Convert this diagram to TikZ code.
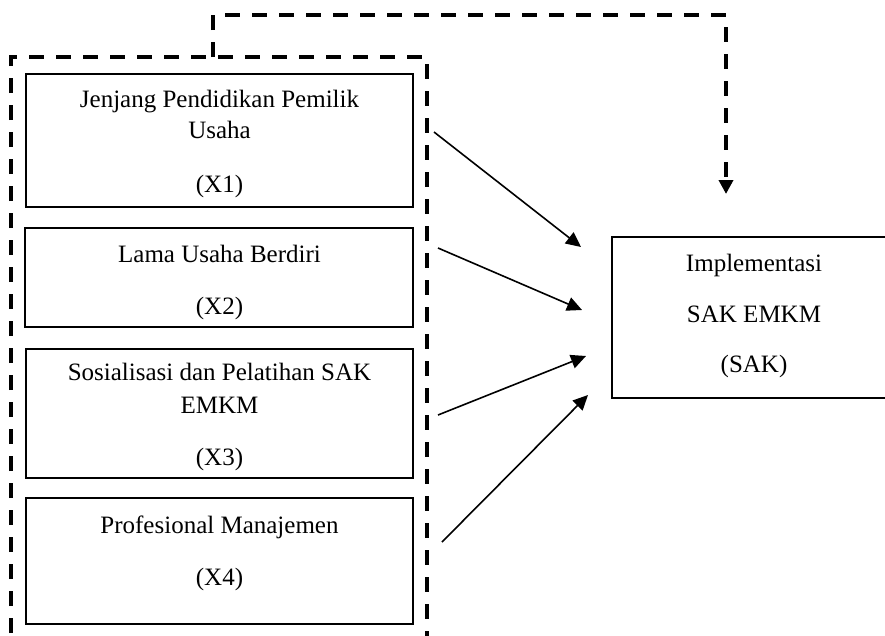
\documentclass[tikz,border=0pt]{standalone}
\usepackage{fontspec}
\setmainfont{Liberation Serif}
\usetikzlibrary{arrows.meta}

\tikzset{
  box/.style={draw,line width=2pt,inner sep=0pt},
  txt/.style={anchor=base,inner sep=0pt,font=\fontsize{25}{30}\selectfont},
  grp/.style={line width=3.5pt,dash pattern=on 15pt off 12pt},
  arr/.style={line width=1.6pt,-{Triangle[length=15pt,width=14pt]}}
}

\begin{document}
\begin{tikzpicture}[x=1pt,y=-1pt]
  \useasboundingbox (0,0) rectangle (885,635);

  % X1
  \node[box,minimum width=387pt,minimum height=133pt] (x1) at (219.5,140.5) {};
  \node[txt] (x1a) at (219.5,107) {Jenjang Pendidikan Pemilik};
  \node[txt] (x1b) at (219.5,138) {Usaha};
  \node[txt] (x1c) at (219.5,192) {(X1)};

  % X2
  \node[box,minimum width=388pt,minimum height=99pt] (x2) at (218.5,277.5) {};
  \node[txt] (x2a) at (219.5,262) {Lama Usaha Berdiri};
  \node[txt] (x2b) at (219.5,314) {(X2)};

  % X3
  \node[box,minimum width=387pt,minimum height=129pt] (x3) at (219.5,413.5) {};
  \node[txt] (x3a) at (219.5,380) {Sosialisasi dan Pelatihan SAK};
  \node[txt] (x3b) at (219.5,413) {EMKM};
  \node[txt] (x3c) at (219.5,465) {(X3)};

  % X4
  \node[box,minimum width=387pt,minimum height=126pt] (x4) at (219.5,561) {};
  \node[txt] (x4a) at (219.5,533) {Profesional Manajemen};
  \node[txt] (x4b) at (219.5,585) {(X4)};

  % SAK
  \node[box,minimum width=284pt,minimum height=161pt] (sak) at (754,317.5) {};
  \node[txt] (saka) at (754,271) {Implementasi};
  \node[txt] (sakb) at (754,322) {SAK EMKM};
  \node[txt] (sakc) at (754,372) {(SAK)};

  % dashed group
  \path
  (11,660) coordinate (g0)
  (11,57) coordinate (g1)
  (427,57) coordinate (g2)
  (427,660) coordinate (g3)
  (213,57) coordinate (m0)
  (213,15) coordinate (m1)
  (726,15) coordinate (m2)
  (726,194) coordinate (m3);
  \draw[grp] (g0) -- (g1) -- (g2) -- (g3);
  \draw[grp,-{Triangle[length=14pt,width=14pt]}] (m0) -- (m1) -- (m2) -- (m3);

  % arrows
  \path
  (434,132) coordinate (a1)
  (581,247) coordinate (b1)
  (438,248) coordinate (a2)
  (582,310) coordinate (b2)
  (438,415) coordinate (a3)
  (586,356) coordinate (b3)
  (442,542) coordinate (a4)
  (588,395) coordinate (b4);
  \draw[arr] (a1) -- (b1);
  \draw[arr] (a2) -- (b2);
  \draw[arr] (a3) -- (b3);
  \draw[arr] (a4) -- (b4);

\end{tikzpicture}
\end{document}
